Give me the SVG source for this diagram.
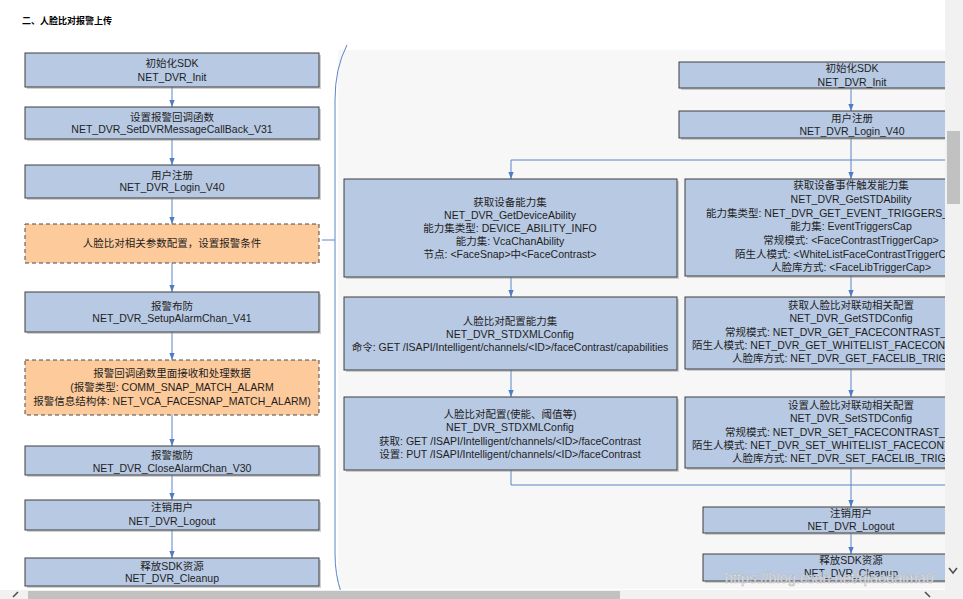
<svg xmlns="http://www.w3.org/2000/svg" width="963" height="599" viewBox="0 0 963 599">
<defs>
<style>
.box{fill:#b8c9e3;stroke:#3f3f3f;stroke-width:1}
.obox{fill:#fdca9b;stroke:#4a4a4a;stroke-width:1;stroke-dasharray:4 3}
.sh{fill:#9a9a9a;opacity:.45}
.t{font-family:"Liberation Sans","Noto Sans CJK SC",sans-serif;font-size:10.5px;fill:#1e1e1e;text-anchor:middle}
.s{text-anchor:start}
.c{fill:none;stroke:#5b86c8;stroke-width:1}
.ca{fill:none;stroke:#5b86c8;stroke-width:1;marker-end:url(#ah)}
.title{font-family:"Liberation Sans","Noto Sans CJK SC",sans-serif;font-size:9px;font-weight:bold;fill:#000}
.sb{fill:none;stroke:#505050;stroke-width:1.6}
</style>
<marker id="ah" viewBox="0 0 8 6" refX="8" refY="3" markerWidth="7" markerHeight="6" markerUnits="userSpaceOnUse" orient="auto">
<path d="M0,0 L8,3 L0,6 z" fill="#4f7cc4"/>
</marker>
<clipPath id="pc"><rect x="0" y="0" width="945" height="590"/></clipPath>
</defs>
<rect width="963" height="599" fill="#ffffff"/>
<text class="title" x="22" y="24">二、人脸比对报警上传</text>
<rect x="338" y="50" width="607" height="539" fill="#f7f7f7"/>

<g id="connectors">
<path class="c" d="M347,45 Q335,68 335,100 L335,553 Q335,575 341,592"/>
<path class="c" d="M322,240 L335,240"/>
<path class="ca" d="M172,87 L172,107"/>
<path class="ca" d="M172,139 L172,165"/>
<path class="ca" d="M172,198 L172,224"/>
<path class="ca" d="M172,263 L172,292"/>
<path class="ca" d="M172,332 L172,360"/>
<path class="ca" d="M172,415 L172,446"/>
<path class="ca" d="M172,475 L172,500"/>
<path class="ca" d="M172,530 L172,558"/>
<g clip-path="url(#pc)">
<path class="ca" d="M851,88 L851,111"/>
<path class="ca" d="M851,138 L851,179"/>
<path class="c" d="M511,160 L960,160"/>
<path class="ca" d="M511,160 L511,179"/>
<path class="ca" d="M511,277 L511,297"/>
<path class="ca" d="M851,276 L851,297"/>
<path class="ca" d="M511,370 L511,397"/>
<path class="ca" d="M851,369 L851,397"/>
<path class="c" d="M511,470 L511,485 L960,485"/>
<path class="ca" d="M851,468 L851,507"/>
<path class="ca" d="M851,533 L851,554"/>
</g>
</g>

<g id="n1"><rect class="sh" x="27" y="55" width="294" height="34"/><rect class="box" x="25" y="53" width="294" height="34"/>
<text class="t" x="172" y="67">初始化SDK</text><text class="t" x="172" y="81">NET_DVR_Init</text></g>
<g id="n2"><rect class="sh" x="27" y="109" width="294" height="32"/><rect class="box" x="25" y="107" width="294" height="32"/>
<text class="t" x="172" y="121">设置报警回调函数</text><text class="t" x="172" y="133">NET_DVR_SetDVRMessageCallBack_V31</text></g>
<g id="n3"><rect class="sh" x="27" y="167" width="294" height="33"/><rect class="box" x="25" y="165" width="294" height="33"/>
<text class="t" x="172" y="179">用户注册</text><text class="t" x="172" y="191">NET_DVR_Login_V40</text></g>
<g id="n4"><rect class="obox" x="25" y="224" width="294" height="39"/>
<text class="t" x="172" y="247">人脸比对相关参数配置，设置报警条件</text></g>
<g id="n5"><rect class="sh" x="27" y="294" width="294" height="40"/><rect class="box" x="25" y="292" width="294" height="40"/>
<text class="t" x="172" y="310">报警布防</text><text class="t" x="172" y="322">NET_DVR_SetupAlarmChan_V41</text></g>
<g id="n6"><rect class="obox" x="25" y="360" width="294" height="55"/>
<text class="t" x="172" y="377">报警回调函数里面接收和处理数据</text>
<text class="t" x="172" y="391">(报警类型: COMM_SNAP_MATCH_ALARM</text>
<text class="t" x="172" y="405">报警信息结构体: NET_VCA_FACESNAP_MATCH_ALARM)</text></g>
<g id="n7"><rect class="sh" x="27" y="448" width="294" height="29"/><rect class="box" x="25" y="446" width="294" height="29"/>
<text class="t" x="172" y="459">报警撤防</text><text class="t" x="172" y="472">NET_DVR_CloseAlarmChan_V30</text></g>
<g id="n8"><rect class="sh" x="27" y="502" width="294" height="30"/><rect class="box" x="25" y="500" width="294" height="30"/>
<text class="t" x="172" y="511">注销用户</text><text class="t" x="172" y="525">NET_DVR_Logout</text></g>
<g id="n9"><rect class="sh" x="27" y="560" width="294" height="28"/><rect class="box" x="25" y="558" width="294" height="28"/>
<text class="t" x="172" y="570">释放SDK资源</text><text class="t" x="172" y="582">NET_DVR_Cleanup</text></g>

<g clip-path="url(#pc)">
<g id="r1"><rect class="sh" x="681" y="64" width="344" height="26"/><rect class="box" x="679" y="62" width="344" height="26"/>
<text class="t" x="852" y="72">初始化SDK</text><text class="t" x="852" y="86">NET_DVR_Init</text></g>
<g id="r2"><rect class="sh" x="681" y="113" width="344" height="27"/><rect class="box" x="679" y="111" width="344" height="27"/>
<text class="t" x="852" y="122">用户注册</text><text class="t" x="852" y="135">NET_DVR_Login_V40</text></g>
<g id="r3"><rect class="sh" x="346" y="181" width="333" height="98"/><rect class="box" x="344" y="179" width="333" height="98"/>
<text class="t" x="510" y="206">获取设备能力集</text>
<text class="t" x="510" y="219">NET_DVR_GetDeviceAbility</text>
<text class="t" x="510" y="232">能力集类型: DEVICE_ABILITY_INFO</text>
<text class="t" x="510" y="245">能力集: VcaChanAbility</text>
<text class="t" x="510" y="258">节点: &lt;FaceSnap&gt;中&lt;FaceContrast&gt;</text></g>
<g id="r4"><rect class="sh" x="687" y="181" width="332" height="97"/><rect class="box" x="685" y="179" width="332" height="97"/>
<text class="t" x="851" y="189">获取设备事件触发能力集</text>
<text class="t" x="851" y="203">NET_DVR_GetSTDAbility</text>
<text class="t s" x="706" y="217">能力集类型: NET_DVR_GET_EVENT_TRIGGERS_CAPABILITIES</text>
<text class="t" x="851" y="230">能力集: EventTriggersCap</text>
<text class="t" x="851" y="244">常规模式: &lt;FaceContrastTriggerCap&gt;</text>
<text class="t s" x="735" y="258">陌生人模式: &lt;WhiteListFaceContrastTriggerCap&gt;</text>
<text class="t" x="851" y="271">人脸库方式: &lt;FaceLibTriggerCap&gt;</text></g>
<g id="r5"><rect class="sh" x="346" y="299" width="333" height="73"/><rect class="box" x="344" y="297" width="333" height="73"/>
<text class="t" x="510" y="325">人脸比对配置能力集</text>
<text class="t" x="510" y="338">NET_DVR_STDXMLConfig</text>
<text class="t" x="510" y="351">命令: GET /ISAPI/Intelligent/channels/&lt;ID&gt;/faceContrast/capabilities</text></g>
<g id="r6"><rect class="sh" x="346" y="399" width="333" height="73"/><rect class="box" x="344" y="397" width="333" height="73"/>
<text class="t" x="510" y="418">人脸比对配置(使能、阈值等)</text>
<text class="t" x="510" y="431">NET_DVR_STDXMLConfig</text>
<text class="t" x="510" y="445">获取: GET /ISAPI/Intelligent/channels/&lt;ID&gt;/faceContrast</text>
<text class="t" x="510" y="458">设置: PUT /ISAPI/Intelligent/channels/&lt;ID&gt;/faceContrast</text></g>
<g id="r7"><rect class="sh" x="687" y="299" width="332" height="72"/><rect class="box" x="685" y="297" width="332" height="72"/>
<text class="t" x="851" y="309">获取人脸比对联动相关配置</text>
<text class="t" x="851" y="322">NET_DVR_GetSTDConfig</text>
<text class="t s" x="725" y="336">常规模式: NET_DVR_GET_FACECONTRAST_TRIGGER</text>
<text class="t s" x="692" y="349">陌生人模式: NET_DVR_GET_WHITELIST_FACECONTRAST_TRIGGER</text>
<text class="t s" x="732" y="362">人脸库方式: NET_DVR_GET_FACELIB_TRIGGER</text></g>
<g id="r8"><rect class="sh" x="687" y="399" width="332" height="71"/><rect class="box" x="685" y="397" width="332" height="71"/>
<text class="t" x="851" y="409">设置人脸比对联动相关配置</text>
<text class="t" x="851" y="422">NET_DVR_SetSTDConfig</text>
<text class="t s" x="725" y="436">常规模式: NET_DVR_SET_FACECONTRAST_TRIGGER</text>
<text class="t s" x="692" y="449">陌生人模式: NET_DVR_SET_WHITELIST_FACECONTRAST_TRIGGER</text>
<text class="t s" x="732" y="462">人脸库方式: NET_DVR_SET_FACELIB_TRIGGER</text></g>
<g id="r9"><rect class="sh" x="705" y="509" width="296" height="26"/><rect class="box" x="703" y="507" width="296" height="26"/>
<text class="t" x="851" y="517">注销用户</text><text class="t" x="851" y="530">NET_DVR_Logout</text></g>
<g id="r10"><rect class="sh" x="705" y="556" width="296" height="27"/><rect class="box" x="703" y="554" width="296" height="27"/>
<text class="t" x="851" y="564">释放SDK资源</text><text class="t" x="851" y="577">NET_DVR_Cleanup</text></g>
</g>

<text x="725" y="583" font-family="Liberation Sans, sans-serif" font-size="14.5" fill="#ffffff" stroke="#b5b5b5" stroke-width="0.6" opacity="0.9">https://blog.csdn.net/qiaodaima0</text>

<rect x="945" y="0" width="18" height="590" fill="#f1f1f1"/>
<rect x="947" y="131" width="13" height="73" fill="#c1c1c1"/>
<rect x="0" y="590" width="963" height="9" fill="#f1f1f1"/>
<rect x="28" y="591" width="592" height="8" fill="#c1c1c1"/>
<path class="sb" d="M949,568 L953,573 L957,568"/>
<path class="sb" d="M18,592 L13,597"/>
<path class="sb" d="M925,592 L930,597"/>
</svg>
